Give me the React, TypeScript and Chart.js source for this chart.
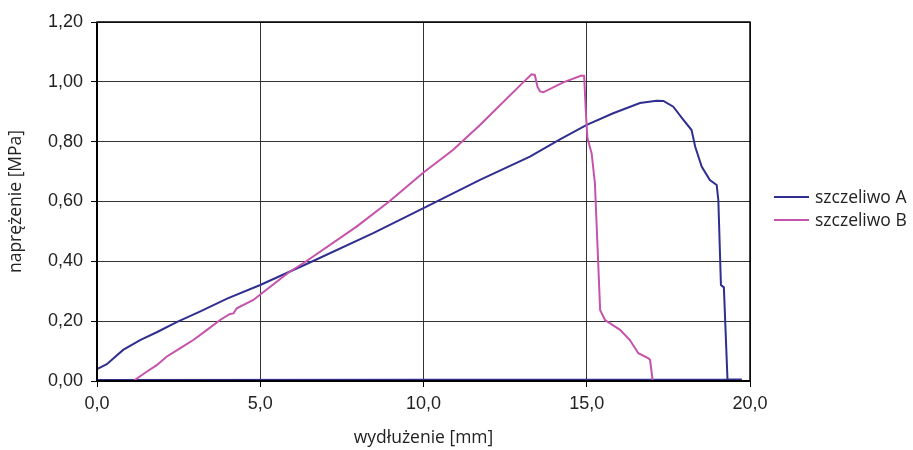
import React, { useEffect, useRef } from "react";
import { Chart, registerables } from "chart.js";

Chart.register(...registerables);

const seriesNames = ["szczeliwo A", "szczeliwo B"];

const aX = [0, 0.3, 0.8, 1.32, 1.83, 2.44, 3.15, 4.0, 5.0, 6.62, 8.46, 10.0, 11.73, 13.26, 14.18, 15.0, 15.81, 16.63, 17.14, 17.35, 17.65, 17.96, 18.21, 18.32, 18.52, 18.77, 18.98, 19.03, 19.11, 19.2, 19.31, 19.75, 0];
const aY = [0.04, 0.056, 0.104, 0.137, 0.163, 0.197, 0.232, 0.276, 0.321, 0.401, 0.494, 0.578, 0.672, 0.75, 0.808, 0.856, 0.895, 0.929, 0.937, 0.936, 0.917, 0.873, 0.839, 0.784, 0.717, 0.672, 0.655, 0.605, 0.321, 0.313, 0.006, 0.005, 0.003];

const bX = [0, 1.11, 1.52, 1.83, 2.13, 2.54, 2.95, 3.36, 3.77, 4.07, 4.18, 4.28, 4.79, 5.0, 5.86, 6.42, 7.95, 8.95, 10.0, 10.91, 11.73, 13.06, 13.31, 13.41, 13.49, 13.57, 13.67, 14.28, 14.84, 14.92, 14.98, 15.02, 15.15, 15.25, 15.41, 15.56, 16.02, 16.32, 16.58, 16.89, 16.94, 17.02, 0];
const bY = [0, 0, 0.031, 0.053, 0.081, 0.109, 0.137, 0.17, 0.204, 0.224, 0.226, 0.243, 0.271, 0.289, 0.362, 0.401, 0.516, 0.6, 0.697, 0.773, 0.856, 0.999, 1.025, 1.023, 0.984, 0.968, 0.965, 0.998, 1.021, 1.02, 0.884, 0.812, 0.761, 0.661, 0.237, 0.204, 0.171, 0.137, 0.093, 0.076, 0.07, 0, 0];

const xTitle = "wydłużenie [mm]";
const yTitle = "naprężenie [MPa]";

const colorA = "#2e2f8f";
const colorB = "#c552ab";

const toPoints = (xs: number[], ys: number[]) => xs.map((x, i) => ({ x, y: ys[i] }));

const frameAndLegend = {
  id: "frameAndLegend",
  afterDatasetsDraw(chart: any) {
    const { ctx, chartArea } = chart;
    ctx.save();
    ctx.strokeStyle = "#000";
    ctx.lineWidth = 1.5;
    ctx.strokeRect(chartArea.left, chartArea.top, chartArea.right - chartArea.left, chartArea.bottom - chartArea.top);
    ctx.lineWidth = 2;
    ctx.beginPath();
    ctx.moveTo(chartArea.left, chartArea.top);
    ctx.lineTo(chartArea.left, chartArea.bottom);
    ctx.lineTo(chartArea.right, chartArea.bottom);
    ctx.stroke();
    const colors = [colorA, colorB];
    const ys = [197, 220];
    ctx.font = '17.5px "Open Sans"';
    ctx.textBaseline = "middle";
    ctx.fillStyle = "#222";
    seriesNames.forEach((name, i) => {
      ctx.strokeStyle = colors[i];
      ctx.lineWidth = 2;
      ctx.beginPath();
      ctx.moveTo(774, ys[i]);
      ctx.lineTo(809, ys[i]);
      ctx.stroke();
      ctx.fillText(name, 815, ys[i] + 1);
    });
    ctx.restore();
  },
};

export default function App() {
  const ref = useRef<HTMLCanvasElement>(null);
  useEffect(() => {
    if (!ref.current) return;
    const chart = new Chart(ref.current, {
      type: "scatter",
      data: {
        datasets: [
          {
            label: seriesNames[0],
            data: toPoints(aX, aY),
            showLine: true,
            borderColor: colorA,
            backgroundColor: colorA,
            borderWidth: 2,
            pointRadius: 0,
            tension: 0,
            order: 2,
          },
          {
            label: seriesNames[1],
            data: toPoints(bX, bY),
            showLine: true,
            borderColor: colorB,
            backgroundColor: colorB,
            borderWidth: 2,
            pointRadius: 0,
            tension: 0,
            order: 1,
          },
        ],
      },
      options: {
        animation: false,
        responsive: false,
        maintainAspectRatio: false,
        layout: { padding: { left: 0, right: 163, top: 22, bottom: 0 } },
        plugins: { legend: { display: false }, tooltip: { enabled: false } },
        scales: {
          x: {
            type: "linear",
            min: 0,
            max: 20,
            afterFit: (s: any) => { s.height = 69; },
            ticks: {
              stepSize: 5,
              padding: 6,
              color: "#222",
              font: { family: '"Liberation Sans", Arial, sans-serif', size: 18 },
              callback: (v: any) => Number(v).toFixed(1).replace(".", ","),
            },
            grid: { color: "#333", lineWidth: 1, tickLength: 6, tickColor: "#000" },
            border: { display: false },
            title: {
              display: true,
              text: xTitle,
              color: "#222",
              font: { family: '"Open Sans", sans-serif', size: 17.5 },
              padding: { top: 0, bottom: 1 },
            },
          },
          y: {
            type: "linear",
            min: 0,
            max: 1.2,
            afterFit: (s: any) => { s.width = 97; },
            ticks: {
              stepSize: 0.2,
              padding: 8,
              color: "#222",
              font: { family: '"Liberation Sans", Arial, sans-serif', size: 18 },
              callback: (v: any) => Number(v).toFixed(2).replace(".", ","),
            },
            grid: { color: "#333", lineWidth: 1, tickLength: 6, tickColor: "#000" },
            border: { display: false },
            title: {
              display: true,
              text: yTitle,
              color: "#222",
              font: { family: '"Open Sans", sans-serif', size: 17.5 },
              padding: { top: 6, bottom: 0 },
            },
          },
        },
      },
      plugins: [frameAndLegend],
    });
    return () => chart.destroy();
  }, []);
  return (
    <div style={{ position: "fixed", left: 0, top: 0, width: 913, height: 450, background: "#fff" }}>
      <canvas ref={ref} width={913} height={450} style={{ width: 913, height: 450 }} />
    </div>
  );
}
